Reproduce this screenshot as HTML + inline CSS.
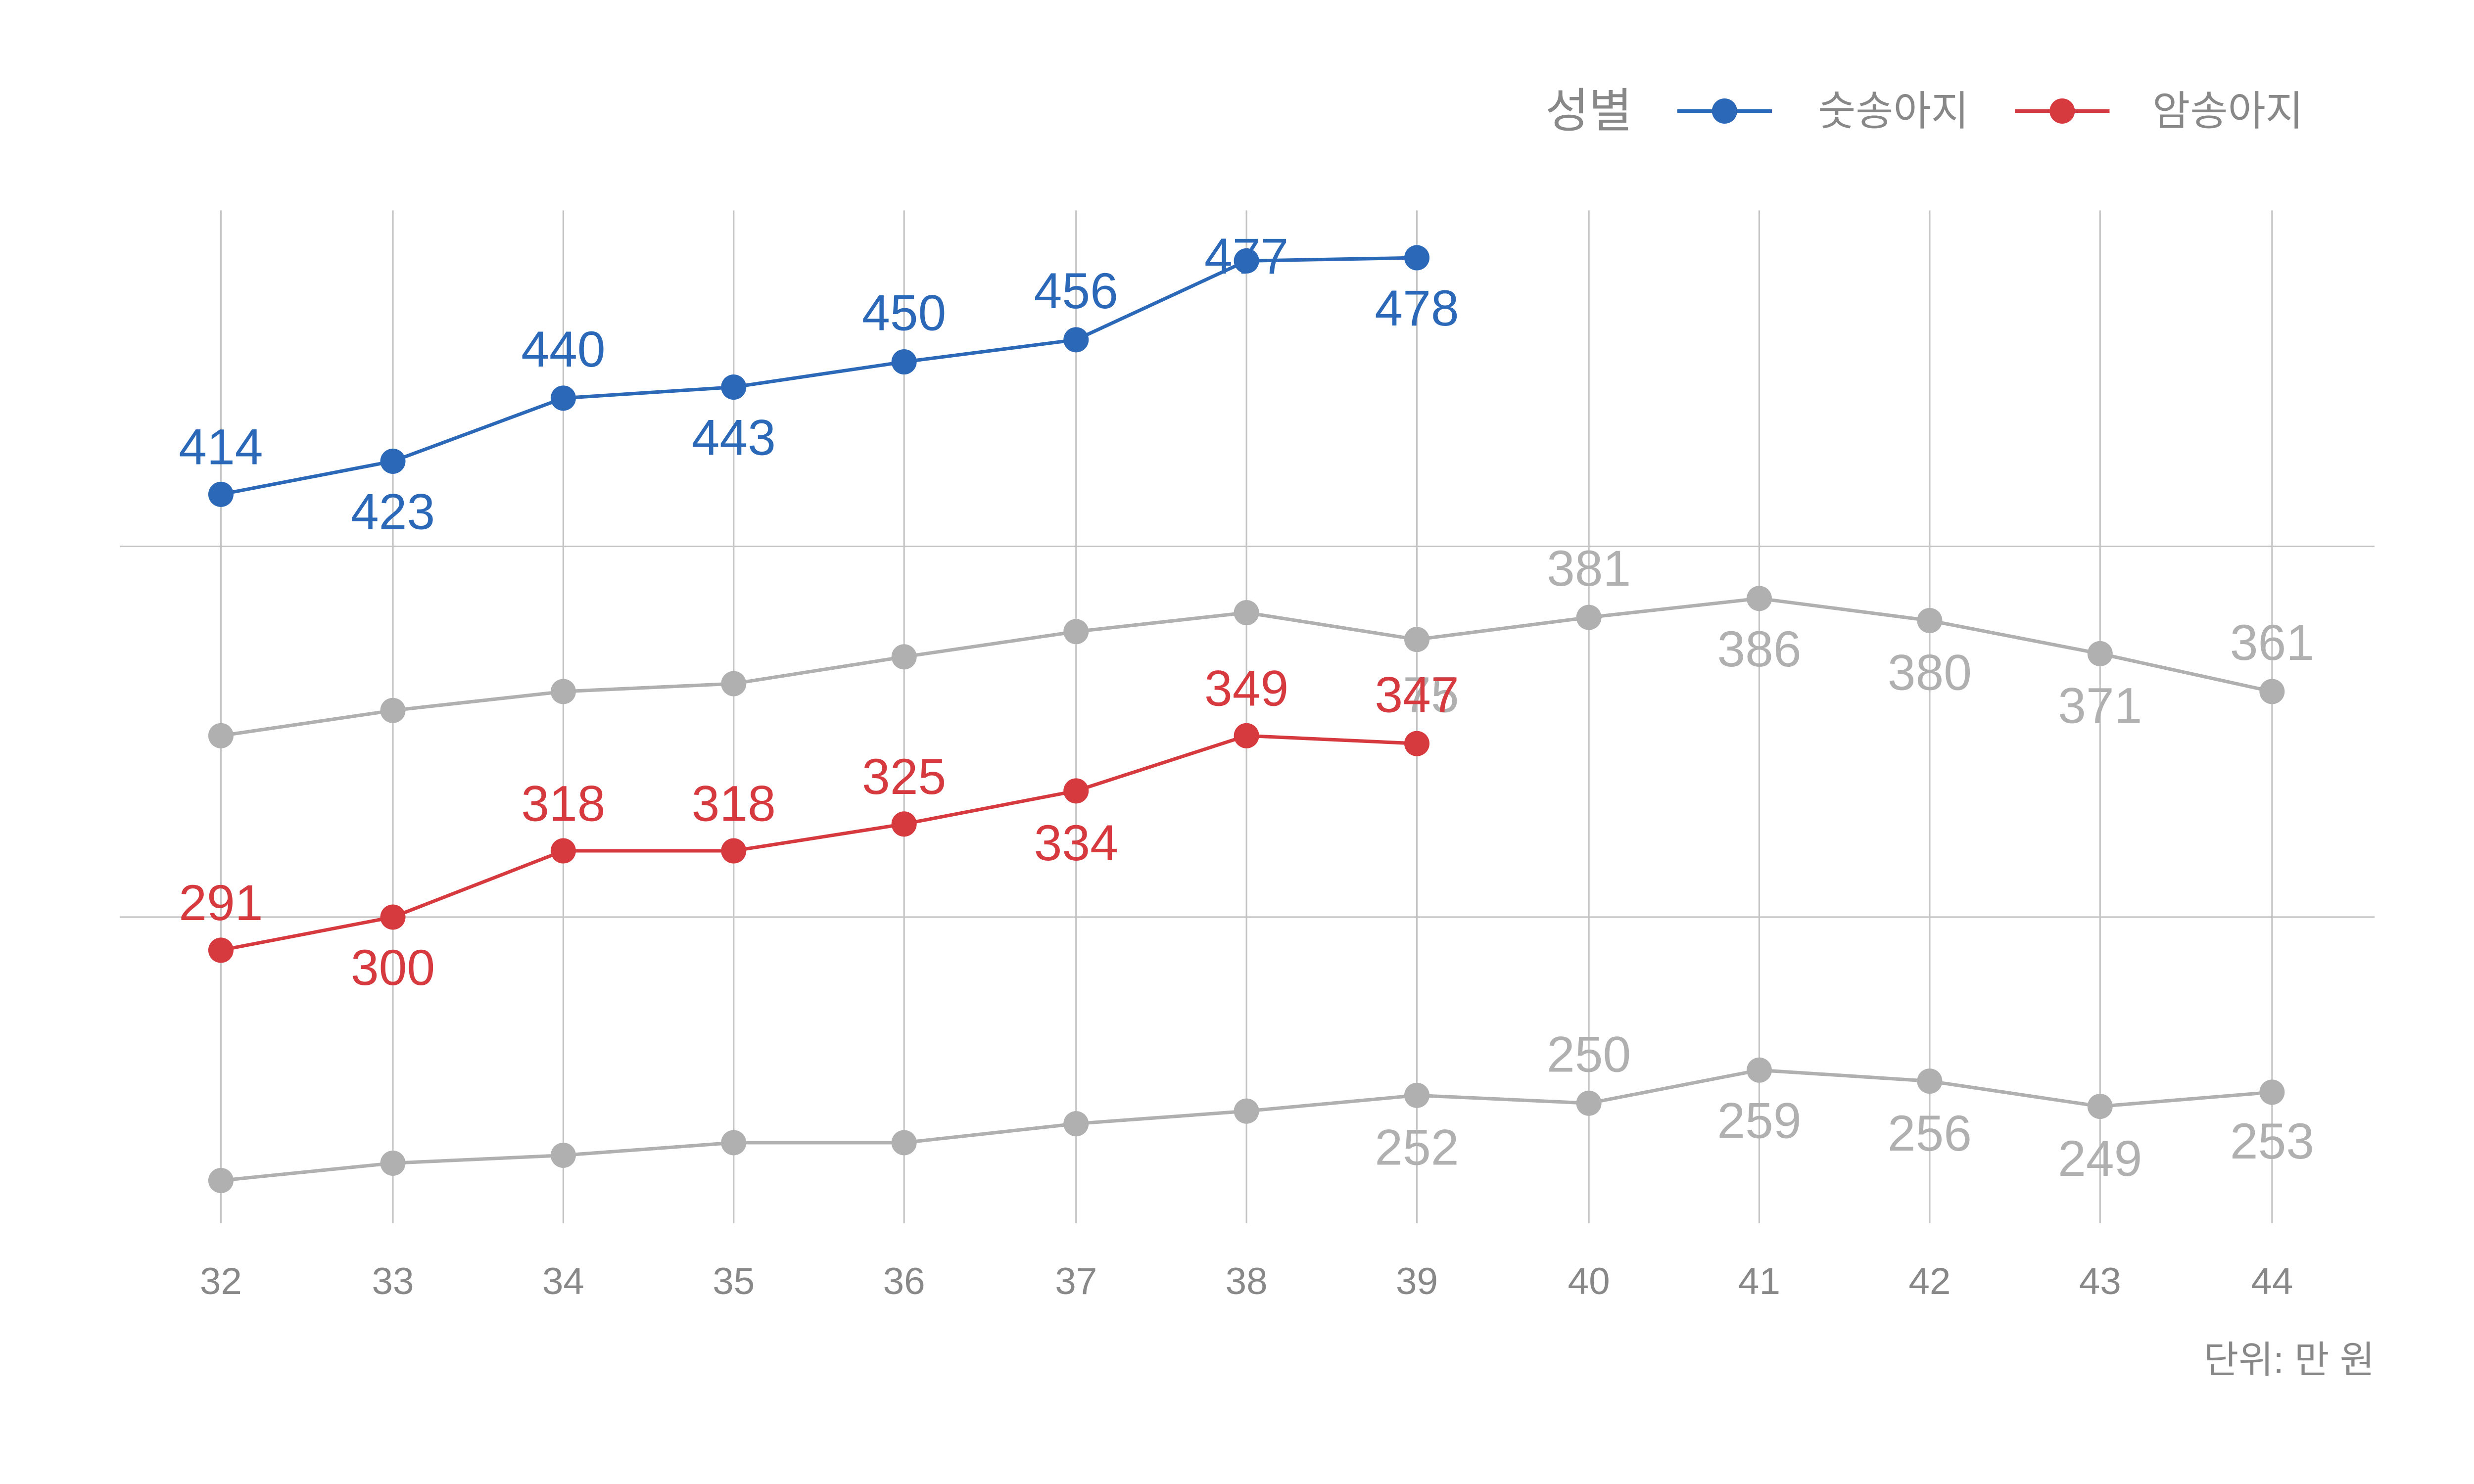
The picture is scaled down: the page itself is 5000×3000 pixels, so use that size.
<!DOCTYPE html>
<html><head><meta charset="utf-8"><style>html,body{margin:0;padding:0;background:#fff}svg{display:block}</style></head>
<body>
<svg width="5000" height="3000" viewBox="0 0 1568 940" xmlns="http://www.w3.org/2000/svg" font-family="Liberation Sans, Noto Sans CJK KR, sans-serif">
<rect width="1568" height="940" fill="#fff"/>
<g stroke="#c4c4c4" stroke-width="1">
<line x1="140" y1="133" x2="140" y2="775"/><line x1="249" y1="133" x2="249" y2="775"/><line x1="357" y1="133" x2="357" y2="775"/><line x1="465" y1="133" x2="465" y2="775"/><line x1="573" y1="133" x2="573" y2="775"/><line x1="682" y1="133" x2="682" y2="775"/><line x1="790" y1="133" x2="790" y2="775"/><line x1="898" y1="133" x2="898" y2="775"/><line x1="1007" y1="133" x2="1007" y2="775"/><line x1="1115" y1="133" x2="1115" y2="775"/><line x1="1223" y1="133" x2="1223" y2="775"/><line x1="1331" y1="133" x2="1331" y2="775"/><line x1="1440" y1="133" x2="1440" y2="775"/>
<line x1="76" y1="346" x2="1505" y2="346"/><line x1="76" y1="581" x2="1505" y2="581"/>
</g>
<g fill="none" stroke-width="2.2">
<polyline stroke="#b0b0b0" points="140,466 249,450 357,438 465,433 573,416 682,400 790,388 898,405 1007,391 1115,379 1223,393 1331,414 1440,438"/>
<polyline stroke="#b0b0b0" points="140,748 249,737 357,732 465,724 573,724 682,712 790,704 898,694 1007,699 1115,678 1223,685 1331,701 1440,692"/>
<polyline stroke="#d63a3f" points="140,602 249,581 357,539 465,539 573,522 682,501 790,466 898,471"/>
<polyline stroke="#2b68b8" points="140,313 249,292 357,252 465,245 573,229 682,215 790,165 898,163"/>
</g>
<g fill="#b0b0b0">
<circle cx="140" cy="466" r="8"/><circle cx="249" cy="450" r="8"/><circle cx="357" cy="438" r="8"/><circle cx="465" cy="433" r="8"/><circle cx="573" cy="416" r="8"/><circle cx="682" cy="400" r="8"/><circle cx="790" cy="388" r="8"/><circle cx="898" cy="405" r="8"/><circle cx="1007" cy="391" r="8"/><circle cx="1115" cy="379" r="8"/><circle cx="1223" cy="393" r="8"/><circle cx="1331" cy="414" r="8"/><circle cx="1440" cy="438" r="8"/>
<circle cx="140" cy="748" r="8"/><circle cx="249" cy="737" r="8"/><circle cx="357" cy="732" r="8"/><circle cx="465" cy="724" r="8"/><circle cx="573" cy="724" r="8"/><circle cx="682" cy="712" r="8"/><circle cx="790" cy="704" r="8"/><circle cx="898" cy="694" r="8"/><circle cx="1007" cy="699" r="8"/><circle cx="1115" cy="678" r="8"/><circle cx="1223" cy="685" r="8"/><circle cx="1331" cy="701" r="8"/><circle cx="1440" cy="692" r="8"/>
</g>
<g fill="#d63a3f"><circle cx="140" cy="602" r="8"/><circle cx="249" cy="581" r="8"/><circle cx="357" cy="539" r="8"/><circle cx="465" cy="539" r="8"/><circle cx="573" cy="522" r="8"/><circle cx="682" cy="501" r="8"/><circle cx="790" cy="466" r="8"/><circle cx="898" cy="471" r="8"/></g>
<g fill="#2b68b8"><circle cx="140" cy="313" r="8"/><circle cx="249" cy="292" r="8"/><circle cx="357" cy="252" r="8"/><circle cx="465" cy="245" r="8"/><circle cx="573" cy="229" r="8"/><circle cx="682" cy="215" r="8"/><circle cx="790" cy="165" r="8"/><circle cx="898" cy="163" r="8"/></g>
<g font-size="32" text-anchor="middle" dominant-baseline="central" fill="#b0b0b0">
<text x="898" y="440">375</text><text x="1007" y="360">381</text><text x="1115" y="411">386</text><text x="1223" y="426">380</text><text x="1331" y="447">371</text><text x="1440" y="407">361</text>
<text x="898" y="727">252</text><text x="1007" y="668">250</text><text x="1115" y="710">259</text><text x="1223" y="718">256</text><text x="1331" y="734">249</text><text x="1440" y="723">253</text>
</g>
<g font-size="32" text-anchor="middle" dominant-baseline="central" fill="#d63a3f">
<text x="140" y="572">291</text><text x="249" y="613">300</text><text x="357" y="509">318</text><text x="465" y="509">318</text><text x="573" y="492">325</text><text x="682" y="534">334</text><text x="790" y="436">349</text><text x="898" y="440">347</text>
</g>
<g font-size="32" text-anchor="middle" dominant-baseline="central" fill="#2b68b8">
<text x="140" y="283">414</text><text x="249" y="324">423</text><text x="357" y="221">440</text><text x="465" y="277">443</text><text x="573" y="198">450</text><text x="682" y="184">456</text><text x="790" y="162">477</text><text x="898" y="195">478</text>
</g>
<g font-size="24" text-anchor="middle" dominant-baseline="central" fill="#888">
<text x="140" y="812">32</text><text x="249" y="812">33</text><text x="357" y="812">34</text><text x="465" y="812">35</text><text x="573" y="812">36</text><text x="682" y="812">37</text><text x="790" y="812">38</text><text x="898" y="812">39</text><text x="1007" y="812">40</text><text x="1115" y="812">41</text><text x="1223" y="812">42</text><text x="1331" y="812">43</text><text x="1440" y="812">44</text>
</g>
<text x="1505" y="862" font-size="24" text-anchor="end" dominant-baseline="central" fill="#888">단위: 만 원</text>
<text x="1007" y="70" font-size="30" text-anchor="middle" dominant-baseline="central" fill="#888">성별</text>
<line x1="1063" y1="70" x2="1123" y2="70" stroke="#2b68b8" stroke-width="2.2"/><circle cx="1093" cy="70" r="8" fill="#2b68b8"/>
<text x="1200" y="70" font-size="26" text-anchor="middle" dominant-baseline="central" fill="#888">숫송아지</text>
<line x1="1277" y1="70" x2="1337" y2="70" stroke="#d63a3f" stroke-width="2.2"/><circle cx="1307" cy="70" r="8" fill="#d63a3f"/>
<text x="1412" y="70" font-size="26" text-anchor="middle" dominant-baseline="central" fill="#888">암송아지</text>
</svg>
</body></html>
